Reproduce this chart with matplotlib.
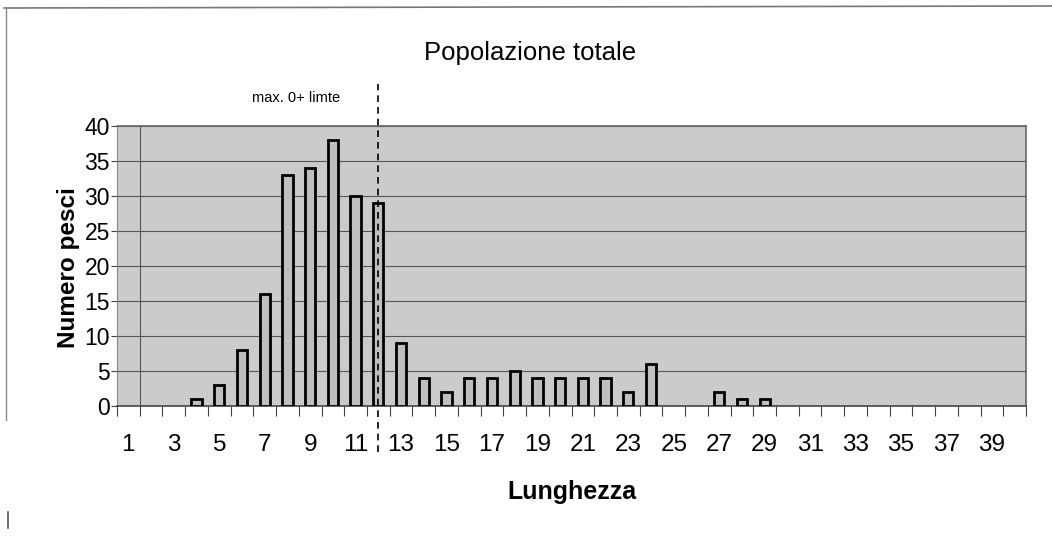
import numpy as np
import matplotlib
matplotlib.use("Agg")
import matplotlib.pyplot as plt
from matplotlib.ticker import FixedLocator

plt.rcParams['font.family'] = ['Liberation Sans', 'DejaVu Sans']

# lengths (categories 1..40) and fish counts
lunghezza = list(range(1, 41))
numero = [0, 0, 0, 1, 3, 8, 16, 33, 34, 38,
          30, 29, 9, 4, 2, 4, 4, 5, 4, 4,
          4, 4, 2, 6, 0, 0, 2, 1, 1, 0,
          0, 0, 0, 0, 0, 0, 0, 0, 0, 0]
tick_labels = [str(v) for v in range(1, 40, 2)]
limite = 12

fig = plt.figure(figsize=(10.52, 5.41), dpi=100)
ax = fig.add_axes([117 / 1052, 1 - 406 / 541, 909 / 1052, 280 / 541])
ax.set_facecolor('#cbcbcb')

# empty classes show no bar at all
x_bar = [x for x, n in zip(lunghezza, numero) if n > 0]
h_bar = [n for n in numero if n > 0]
ax.bar(x_bar, h_bar, width=0.45, color='#bfbfbf', edgecolor='black',
       linewidth=2, zorder=3)

ax.set_xlim(0.5, 40.5)
ax.set_ylim(0, 40)
ax.set_yticks(range(0, 41, 5))
ax.yaxis.grid(True, color='#555555', linewidth=0.8, zorder=1)
ax.axvline(1.5, color='#555555', linewidth=0.8, zorder=1)

ax.set_xticks(range(1, 40, 2))
ax.set_xticklabels(tick_labels)
ax.xaxis.set_minor_locator(FixedLocator(np.arange(0.5, 41, 1)))
ax.tick_params(axis='x', which='major', length=0, pad=20, labelsize=17.5)
ax.tick_params(axis='x', which='minor', length=7, width=0.8, color='#444444')
ax.tick_params(axis='y', length=4, pad=1, labelsize=16.5, color='#444444')

for side in ['top', 'right']:
    ax.spines[side].set_color('#666666')
    ax.spines[side].set_linewidth(1.2)
ax.spines['left'].set_color('#888888')
ax.spines['bottom'].set_color('#444444')
ax.spines['bottom'].set_linewidth(1.2)

# dashed limit line
ax.axvline(limite, ymin=-0.165, ymax=1.15, color='black', linestyle=(0, (4, 3)),
           linewidth=1.2, clip_on=False, zorder=4)
ax.text(10.3, 44, 'max. 0+ limte', ha='right', va='center', fontsize=10.5)

fig.text(69 / 1052, 1 - 268 / 541, 'Numero pesci', rotation=90, ha='center',
         va='center', fontsize=17.5, fontweight='bold')
fig.text(572 / 1052, 1 - 492 / 541, 'Lunghezza', ha='center', va='center',
         fontsize=18, fontweight='bold')
fig.text(530 / 1052, 1 - 53 / 541, 'Popolazione totale', ha='center',
         va='center', fontsize=18.5)

# scanned frame lines
fig.add_artist(plt.Line2D([0.004, 1.0], [1 - 8 / 541, 1 - 6 / 541],
                          color='#777777', linewidth=1.2))
fig.add_artist(plt.Line2D([6 / 1052, 6 / 1052], [1 - 8 / 541, 1 - 420 / 541],
                          color='#888888', linewidth=1.0))
fig.add_artist(plt.Line2D([8 / 1052, 8 / 1052], [1 - 512 / 541, 1 - 528 / 541],
                          color='#555555', linewidth=1.2))

fig.savefig('out.png', dpi=100)
